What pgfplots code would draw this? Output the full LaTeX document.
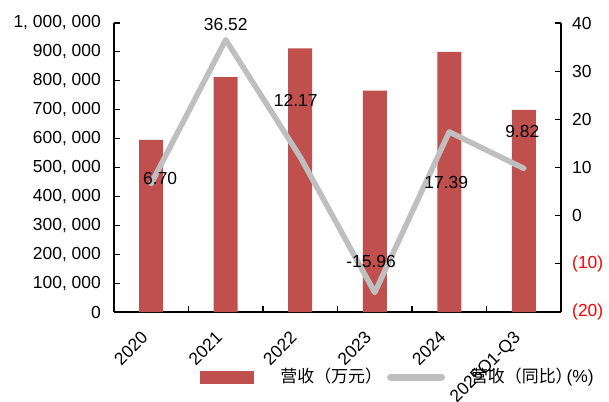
\documentclass[border=0pt]{standalone}
\usepackage{fontspec}
\setmainfont{Liberation Sans}
\newfontfamily\cjk{Noto Sans CJK SC}
\usepackage{pgfplots}
\pgfplotsset{compat=1.18}
\definecolor{barred}{HTML}{C0504D}
\definecolor{linegray}{HTML}{BFBFBF}
\begin{document}
\fontsize{17.5}{20}\selectfont
\begin{tikzpicture}
\path[use as bounding box] (-114bp,-90bp) rectangle (495bp,312bp);
\begin{axis}[
  scale only axis, width=447bp, height=289bp,
  xmin=-0.5, xmax=5.5, ymin=0, ymax=1000000,
  axis y line*=left, axis x line*=bottom,
  axis line style={line width=1.2bp, black},
  ytick={0,100000,200000,300000,400000,500000,600000,700000,800000,900000,1000000},
  yticklabels={0,{100,\ 000},{200,\ 000},{300,\ 000},{400,\ 000},{500,\ 000},{600,\ 000},{700,\ 000},{800,\ 000},{900,\ 000},{1,\ 000,\ 000}},
  xtick={0,1,2,3,4,5},
  xticklabels={2020,2021,2022,2023,2024,2025Q1-Q3},
  major x tick style={draw=none},
  minor xtick={0.5,1.5,2.5,3.5,4.5},
  minor tick length=6bp, major tick length=6bp,
  tick align=inside,
  tick style={black, line width=1.2bp},
  xticklabel style={xshift=-11bp, yshift=-18bp, rotate=45, anchor=north east, inner sep=0bp},
  yticklabel style={inner sep=0bp, xshift=-13bp},
  /pgf/number format/assume math mode=true,
  scaled y ticks=false,
]
\addplot[ybar, fill=barred, draw=none, bar width=24bp] coordinates {(0,595500) (1,813000) (2,912000) (3,766400) (4,899700) (5,699000)};
\end{axis}
\begin{axis}[
  scale only axis, width=447bp, height=289bp,
  xmin=-0.5, xmax=5.5, ymin=-20, ymax=40,
  axis y line*=right, axis x line=none,
  axis line style={line width=1.2bp, black},
  ytick={-20,-10,0,10,20,30,40},
  yticklabels={\textcolor{red}{(20)},\textcolor{red}{(10)},0,10,20,30,40},
  major tick length=6bp,
  tick align=inside,
  tick style={black, line width=1.2bp},
  yticklabel style={inner sep=0bp, xshift=11bp},
  /pgf/number format/assume math mode=true,
  legend columns=2,
  legend style={at={(axis description cs:0.192,-0.225)}, anchor=west, draw=none, fill=none, inner sep=0pt,
    nodes={inner sep=2bp},
    /tikz/every even column/.append style={column sep=3bp}},
  clip=false,
]
\addlegendimage{legend image code/.code={\fill[barred] (0bp,-6bp) rectangle (53bp,6bp);}}
\addlegendentry{\hspace*{25bp}{\fontsize{17}{19}\selectfont\cjk 营收（万元）}}
\addplot[linegray, line width=5.5bp, line cap=round, line join=round,
  legend image code/.code={\draw[linegray, line width=7bp, line cap=round] (3bp,0bp) -- (54bp,0bp);}]
  coordinates {(0,6.70) (1,36.52) (2,12.17) (3,-15.96) (4,17.39) (5,9.82)};
\addlegendentry{\hspace*{24bp}{\fontsize{17}{19}\selectfont\cjk 营收（同比）}\hspace{-6bp}(\%)}
\node at (axis cs:0.12,7.8) {6.70};
\node at (axis cs:1.0,39.6) {36.52};
\node at (axis cs:1.94,24.0) {12.17};
\node at (axis cs:2.95,-9.6) {-15.96};
\node at (axis cs:3.96,6.8) {17.39};
\node at (axis cs:4.98,17.4) {9.82};
\end{axis}
\end{tikzpicture}
\end{document}
